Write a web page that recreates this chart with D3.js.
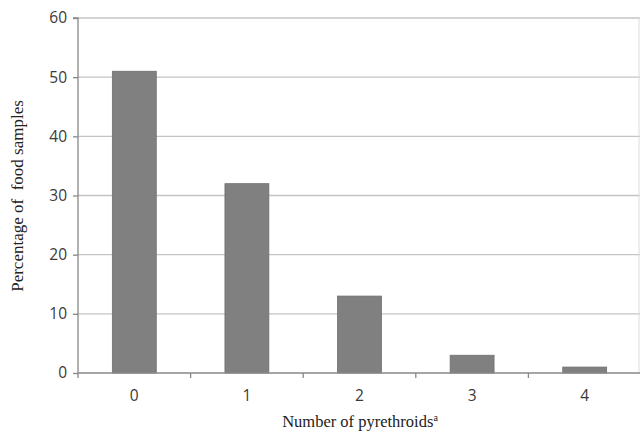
<!DOCTYPE html>
<html><head><meta charset="utf-8">
<script src="https://cdn.jsdelivr.net/npm/d3@7"></script>
<style>body{margin:0;background:#fff}svg{display:block}</style>
</head><body>
<script>
const categories = ["0","1","2","3","4"];
const values = [51, 32, 13, 3, 1];
const yTicks = [0,10,20,30,40,50,60];

const W = 640, H = 433;
const svg = d3.select("body").append("svg").attr("width", W).attr("height", H);
const x0 = 78, x1 = 641, yTop = 18, yBot = 373;
const x = d3.scaleBand().domain(categories).range([x0, x1]).padding(0);
const y = d3.scaleLinear().domain([0, 60]).range([yBot, yTop]);

// gridlines
svg.append("g").selectAll("line").data(yTicks.filter(d => d > 0)).join("line")
  .attr("x1", x0).attr("x2", W).attr("y1", d => y(d)).attr("y2", d => y(d))
  .attr("stroke", "#c4c4c4").attr("stroke-width", 1.3);
svg.append("line").attr("x1", 639).attr("x2", 639).attr("y1", yTop).attr("y2", yBot)
  .attr("stroke", "#dcdcdc").attr("stroke-width", 1);

// bars
const bw = x.bandwidth() * 0.39;
svg.append("g").selectAll("rect").data(values).join("rect")
  .attr("x", (d, i) => x(categories[i]) + (x.bandwidth() - bw) / 2)
  .attr("width", bw)
  .attr("y", d => y(d))
  .attr("height", d => y(0) - y(d))
  .attr("fill", "#808080").attr("stroke", "#6e6e6e").attr("stroke-width", 0.8);

// y axis
const yAxis = svg.append("g").attr("transform", `translate(${x0},0)`)
  .call(d3.axisLeft(y).tickValues(yTicks).tickSize(5).tickPadding(6));
yAxis.select(".domain").attr("stroke", "#888").attr("stroke-width", 1.3).attr("d", `M-5,${yTop}H0V${yBot}`);
yAxis.selectAll(".tick line").attr("stroke", "#888").attr("stroke-width", 1.3);
yAxis.selectAll("text").attr("font-family", "'Open Sans', sans-serif")
  .attr("font-size", 15.5).attr("fill", "#3a3a3a");

// x axis
const xAxisG = svg.append("g").attr("transform", `translate(0,${yBot})`);
xAxisG.append("line").attr("x1", x0).attr("x2", x1).attr("stroke", "#888").attr("stroke-width", 1.3);
const bounds = categories.map(c => x(c)).concat([x1]);
xAxisG.selectAll("line.t").data(bounds).join("line").attr("class", "t")
  .attr("x1", d => d).attr("x2", d => d).attr("y1", 0).attr("y2", 5)
  .attr("stroke", "#888").attr("stroke-width", 1.3);
xAxisG.selectAll("text").data(categories).join("text")
  .attr("x", d => x(d) + x.bandwidth() / 2).attr("y", 28)
  .attr("text-anchor", "middle")
  .attr("font-family", "'Open Sans', sans-serif")
  .attr("font-size", 15.5).attr("fill", "#3a3a3a").text(d => d);

// axis titles
svg.append("text").attr("transform", "translate(23,196) rotate(-90)")
  .attr("text-anchor", "middle").attr("font-family", "'Liberation Serif', 'Times New Roman', serif")
  .attr("font-size", 17).attr("fill", "#222").attr("xml:space", "preserve")
  .text("Percentage of  food samples");
const xt = svg.append("text").attr("x", 360).attr("y", 427)
  .attr("text-anchor", "middle").attr("font-family", "'Liberation Serif', 'Times New Roman', serif")
  .attr("font-size", 16.5).attr("fill", "#222");
xt.append("tspan").text("Number of pyrethroids");
xt.append("tspan").attr("dy", -6).attr("font-size", 10).text("a");
</script>
</body></html>
